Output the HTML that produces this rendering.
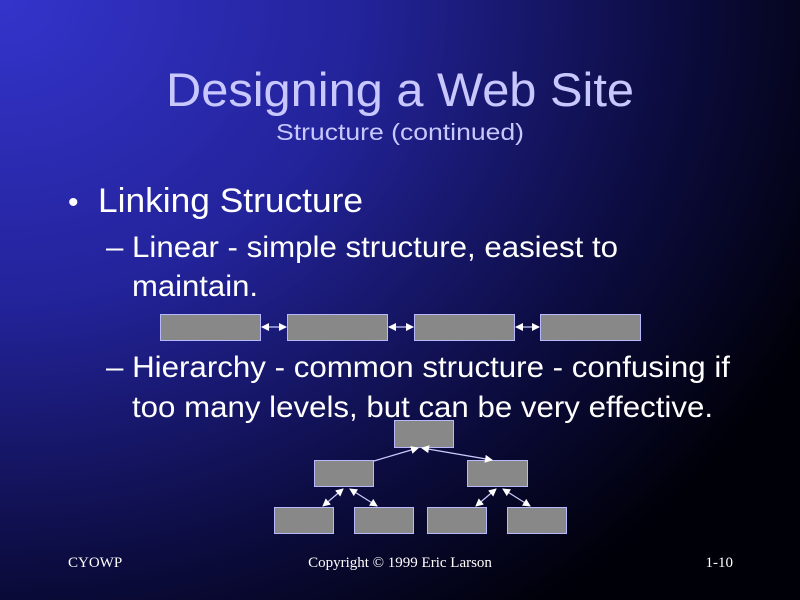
<!DOCTYPE html>
<html><head><meta charset="utf-8"><style>
html,body{margin:0;padding:0;width:800px;height:600px;overflow:hidden;background:#000}
</style></head><body>
<svg width="800" height="600" xmlns="http://www.w3.org/2000/svg">
<defs>
<radialGradient id="bg" cx="0" cy="0" r="1" gradientUnits="userSpaceOnUse" gradientTransform="translate(0,0) scale(900,760)">
<stop offset="0" stop-color="#3434cc"/>
<stop offset="0.4" stop-color="#23239a"/>
<stop offset="0.75" stop-color="#0c0c40"/>
<stop offset="1" stop-color="#000008"/>
</radialGradient>
<marker id="a" markerWidth="8" markerHeight="8" refX="7" refY="4" orient="auto-start-reverse" markerUnits="userSpaceOnUse">
<path d="M0,0 L8,4 L0,8 z" fill="#fff"/>
</marker>
</defs>
<rect width="800" height="600" fill="url(#bg)"/>
<g font-family="Liberation Sans, sans-serif">
<text x="400" y="106" font-size="47" fill="#c8c8ff" text-anchor="middle" textLength="468" lengthAdjust="spacingAndGlyphs">Designing a Web Site</text>
<text x="400" y="140" font-size="23" fill="#c8c8ff" text-anchor="middle" textLength="248" lengthAdjust="spacingAndGlyphs">Structure (continued)</text>
<g fill="#fff">
<text x="68" y="212" font-size="30">•</text>
<text x="98" y="212" font-size="34" textLength="265" lengthAdjust="spacingAndGlyphs">Linking Structure</text>
<text x="106" y="257" font-size="30" textLength="512" lengthAdjust="spacingAndGlyphs">– Linear - simple structure, easiest to</text>
<text x="132" y="296" font-size="30" textLength="126" lengthAdjust="spacingAndGlyphs">maintain.</text>
<text x="106" y="377" font-size="30" textLength="624" lengthAdjust="spacingAndGlyphs">– Hierarchy - common structure - confusing if</text>
<text x="132" y="417" font-size="30" textLength="581" lengthAdjust="spacingAndGlyphs">too many levels, but can be very effective.</text>
</g>
</g>
<g fill="#888" stroke="#b8b8ff" stroke-width="1">
<rect x="160.5" y="314.5" width="100" height="26"/>
<rect x="287.5" y="314.5" width="100" height="26"/>
<rect x="414.5" y="314.5" width="100" height="26"/>
<rect x="540.5" y="314.5" width="100" height="26"/>
<rect x="394.5" y="420.5" width="59" height="27"/>
<rect x="314.5" y="460.5" width="59" height="26"/>
<rect x="467.5" y="460.5" width="60" height="26"/>
<rect x="274.5" y="507.5" width="59" height="26"/>
<rect x="354.5" y="507.5" width="59" height="26"/>
<rect x="427.5" y="507.5" width="59" height="26"/>
<rect x="507.5" y="507.5" width="59" height="26"/>
</g>
<g stroke="#ccccff" stroke-width="1.2" fill="none">
<line x1="262" y1="327" x2="286" y2="327" marker-start="url(#a)" marker-end="url(#a)"/>
<line x1="389" y1="327" x2="413" y2="327" marker-start="url(#a)" marker-end="url(#a)"/>
<line x1="516" y1="327" x2="539" y2="327" marker-start="url(#a)" marker-end="url(#a)"/>
<line x1="374" y1="461" x2="418" y2="448" marker-end="url(#a)"/>
<line x1="422" y1="448" x2="492" y2="460" marker-start="url(#a)" marker-end="url(#a)"/>
<line x1="323" y1="506" x2="343" y2="489" marker-start="url(#a)" marker-end="url(#a)"/>
<line x1="350" y1="489" x2="377" y2="506" marker-start="url(#a)" marker-end="url(#a)"/>
<line x1="476" y1="506" x2="496" y2="489" marker-start="url(#a)" marker-end="url(#a)"/>
<line x1="503" y1="489" x2="530" y2="506" marker-start="url(#a)" marker-end="url(#a)"/>
</g>
<g font-family="Liberation Serif, serif" font-size="15" fill="#fff">
<text x="68" y="567">CYOWP</text>
<text x="400" y="567" text-anchor="middle">Copyright © 1999 Eric Larson</text>
<text x="733" y="567" text-anchor="end">1-10</text>
</g>
</svg>
</body></html>
